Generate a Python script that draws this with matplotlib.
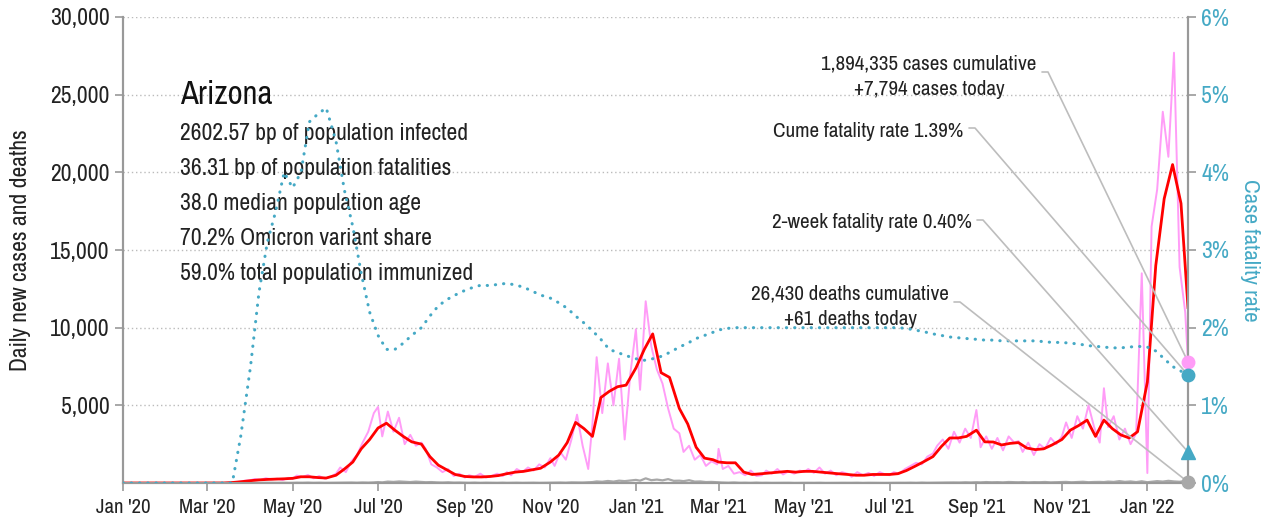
import matplotlib.pyplot as plt
import matplotlib.dates as mdates
from matplotlib import font_manager as fm
import pandas as pd

# pick a narrow face if the machine has one
_fonts = fm.fontManager.ttflist
_narrow = sorted({f.name for f in _fonts if 'Narrow' in f.name or 'Condensed' in f.name})
_cond = [f.name for f in _fonts if str(f.stretch) in ('condensed', 'semi-condensed', '500', '300')]
if _narrow:
    plt.rcParams['font.family'] = [_narrow[0], 'DejaVu Sans']
elif _cond:
    plt.rcParams['font.family'] = [_cond[0], 'DejaVu Sans']
    plt.rcParams['font.stretch'] = 'condensed'
else:
    plt.rcParams['font.family'] = ['Liberation Sans', 'DejaVu Sans']
NARROW = bool(_narrow or _cond)

# 7-day average cases and case fatality rate, sampled on days 1,7,13,19,25 of each month (Jan '20 - Jan '22)
avg_cases = [
    0, 0, 0, 0, 0,                  # Jan 20
    0, 0, 0, 0, 0,                  # Feb 20
    0, 0, 0, 30, 80,                # Mar 20
    150, 200, 230, 250, 270,        # Apr 20
    300, 400, 400, 350, 320,        # May 20
    500, 900, 1350, 2200, 2800,     # Jun 20
    3540, 3850, 3400, 3000, 2650,   # Jul 20
    2500, 1700, 1150, 850, 550,     # Aug 20
    420, 390, 390, 420, 480,        # Sep 20
    600, 700, 750, 850, 950,        # Oct 20
    1350, 1800, 2600, 3900, 3500,   # Nov 20
    3000, 5500, 5900, 6200, 6300,   # Dec 20
    7400, 8600, 9600, 7100, 6800,   # Jan 21
    4800, 3800, 2300, 1600, 1500,   # Feb 21
    1350, 1300, 1300, 700, 550,     # Mar 21
    600, 650, 700, 750, 700,        # Apr 21
    750, 750, 700, 650, 600,        # May 21
    550, 500, 500, 550, 550,        # Jun 21
    550, 600, 800, 1070, 1350,      # Jul 21
    1700, 2350, 2900, 2900, 3000,   # Aug 21
    3400, 2650, 2640, 2450, 2550,   # Sep 21
    2600, 2250, 2150, 2200, 2450,   # Oct 21
    2800, 3400, 3700, 4050, 3000,   # Nov 21
    4050, 3500, 3100, 2900, 3300,   # Dec 21
    6500, 14000, 18300, 20500, 18000,  # Jan 22
]
cfr_pct = [
    0, 0, 0, 0, 0,
    0, 0, 0, 0, 0,
    0, 0, 0, 0, 0.6,
    1.5, 2.45, 3.1, 3.5, 4.0,
    3.8, 4.0, 4.65, 4.75, 4.83,
    4.4, 3.77, 3.3, 2.7, 2.2,
    1.9, 1.72, 1.72, 1.8, 1.9,
    2.0, 2.15, 2.28, 2.36, 2.42,
    2.48, 2.52, 2.55, 2.54, 2.56,
    2.57, 2.55, 2.52, 2.47, 2.42,
    2.38, 2.32, 2.25, 2.15, 2.06,
    1.96, 1.85, 1.72, 1.68, 1.64,
    1.6, 1.58, 1.6, 1.63, 1.68,
    1.75, 1.8, 1.86, 1.9, 1.94,
    1.97, 1.99, 2.0, 2.0, 2.0,
    2.0, 2.0, 2.0, 2.0, 2.0,
    2.0, 2.0, 2.0, 2.0, 2.0,
    2.0, 2.0, 2.0, 2.0, 2.0,
    2.0, 2.0, 1.99, 1.97, 1.95,
    1.92, 1.9, 1.88, 1.87, 1.86,
    1.85, 1.84, 1.84, 1.83, 1.83,
    1.83, 1.83, 1.83, 1.82, 1.81,
    1.81, 1.8, 1.79, 1.77, 1.76,
    1.75, 1.74, 1.74, 1.75, 1.76,
    1.75, 1.7, 1.6, 1.5, 1.44,
]

# daily reported cases and deaths, days 1,4,8,12,16,20,24,28 of each month (Mar '20 - Jan '22)
daily_cases = [
    0, 0, 0, 0, 10, 40, 80, 150,
    180, 260, 200, 310, 230, 280, 190, 330,
    260, 480, 380, 520, 300, 450, 280, 400,
    600, 1000, 700, 1400, 1800, 2600, 3300, 4500,
    4900, 3000, 4600, 3300, 4200, 2500, 3100, 2400,
    2600, 2200, 1200, 1000, 700, 900, 450, 600,
    350, 500, 400, 600, 350, 450, 600, 450,
    700, 500, 900, 700, 1000, 800, 1200, 1000,
    1600, 1100, 2000, 1500, 2800, 4400, 2400, 900,
    3800, 8100, 4500, 7700, 5000, 8000, 2800, 7000,
    9900, 6000, 11700, 8800, 7300, 6400, 4800, 3500,
    3200, 2000, 2400, 1500, 1800, 1100, 1400, 1200,
    2200, 900, 1100, 600, 700, 500, 800, 450,
    500, 800, 600, 900, 550, 750, 600, 800,
    700, 900, 650, 1000, 600, 800, 500, 700,
    600, 400, 700, 500, 650, 450, 700, 550,
    500, 700, 600, 900, 1100, 1300, 1200, 1700,
    1900, 2400, 2800, 2200, 3300, 2600, 3500, 2900,
    4700, 2300, 3000, 2200, 2900, 2100, 3000, 2600,
    2700, 2000, 2600, 1800, 2500, 2200, 2900, 2500,
    3000, 3900, 2900, 4300, 3500, 5000, 3600, 2600,
    6100, 3600, 4300, 2800, 3500, 2500, 3200, 13500,
    640, 16500, 18900, 23900, 21000, 27700, 13900, 11000,
]
daily_deaths = [
    0, 0, 0, 0, 0, 1, 2, 3,
    5, 10, 8, 15, 12, 10, 15, 8,
    10, 20, 15, 25, 12, 20, 10, 15,
    15, 20, 25, 30, 20, 35, 25, 40,
    60, 40, 90, 70, 100, 80, 60, 90,
    70, 50, 60, 40, 30, 45, 25, 30,
    20, 15, 25, 10, 20, 15, 10, 20,
    10, 15, 20, 10, 15, 20, 10, 15,
    20, 25, 30, 20, 40, 35, 30, 50,
    60, 100, 80, 130, 90, 150, 120, 160,
    200, 150, 300, 180, 220, 170, 250, 140,
    150, 120, 180, 90, 100, 60, 70, 50,
    40, 30, 20, 35, 15, 20, 10, 25,
    10, 15, 8, 12, 10, 15, 5, 10,
    10, 12, 8, 15, 5, 10, 8, 12,
    8, 10, 15, 5, 12, 8, 10, 6,
    10, 8, 15, 12, 20, 10, 25, 15,
    20, 30, 25, 40, 35, 30, 45, 35,
    50, 40, 60, 45, 55, 40, 65, 50,
    45, 60, 40, 55, 50, 65, 40, 50,
    55, 70, 45, 60, 80, 50, 65, 70,
    60, 90, 70, 120, 75, 100, 60, 110,
    50, 80, 120, 90, 140, 100, 80, 130,
]

# latest figures
last_date = pd.Timestamp('2022-01-30')
cases_today = 7794
deaths_today = 61
avg_today = 11300
cfr_today = 1.39
cfr_2week = 0.40
cases_cum = 1894335
deaths_cum = 26430

state = 'Arizona'
stats = ['2602.57 bp of population infected',
         '36.31 bp of population fatalities',
         '38.0 median population age',
         '70.2% Omicron variant share',
         '59.0% total population immunized']


def month_grid(first, last, days):
    months = pd.date_range(first, last, freq='MS')
    return [m + pd.Timedelta(days=d - 1) for m in months for d in days]


avg_dates = month_grid('2020-01-01', '2022-01-01', [1, 7, 13, 19, 25]) + [last_date]
daily_dates = month_grid('2020-03-01', '2022-01-01', [1, 4, 8, 12, 16, 20, 24, 28]) + [last_date]
last_x = mdates.date2num(last_date)

PINK = '#FF9CF7'
RED = '#FF0000'
GRAY = '#A8A8A8'
TEAL = '#45A9C5'
LINE = '#BDBDBD'
AX = '#999999'
K = 1.0 if NARROW else 0.85

fig = plt.figure(figsize=(12.67, 5.25), dpi=100)
ax = fig.add_axes([123 / 1267, 42 / 525, 1065 / 1267, 466 / 525])
ax2 = ax.twinx()

ax.plot(daily_dates, daily_cases + [cases_today], color=PINK, lw=1.4, zorder=2)
ax.plot(daily_dates, daily_deaths + [deaths_today], color=GRAY, lw=1.6, zorder=2)
ax.plot(avg_dates, avg_cases + [avg_today], color=RED, lw=2, zorder=3)
ax2.plot(avg_dates, cfr_pct + [cfr_today], color=TEAL, lw=2.2,
         linestyle=(0, (0.1, 2.6)), dash_capstyle='round', zorder=3)

ax.set_xlim(pd.Timestamp('2020-01-01'), last_date)
ax.set_ylim(0, 30000)
ax2.set_ylim(0, 6)

xt = pd.date_range('2020-01-01', '2022-01-01', freq='2MS')
ax.set_xticks(xt)
ax.set_xticklabels([d.strftime("%b '%y") for d in xt])
ax.set_yticks(range(5000, 30001, 5000))
ax.set_yticklabels([f'{v:,}' for v in range(5000, 30001, 5000)])
ax2.set_yticks(range(0, 7))
ax2.set_yticklabels([f'{v}%' for v in range(0, 7)])

ax.grid(axis='y', color='#BBBBBB', linestyle=(0, (1, 2)), lw=1)
ax.set_axisbelow(True)
for a in (ax, ax2):
    for s in a.spines.values():
        s.set_color(AX)
        s.set_linewidth(1.5)
    a.spines['top'].set_visible(False)
ax.tick_params(axis='x', colors=AX, length=6, width=1.2, labelsize=15 * K, labelcolor='#222222', pad=5)
ax.tick_params(axis='y', colors=AX, length=6, width=1.2, labelsize=17 * K, labelcolor='#222222')
ax2.tick_params(axis='y', colors=AX, length=6, width=1.2, labelsize=17 * K, labelcolor=TEAL)

ax.set_ylabel('Daily new cases and deaths', fontsize=17 * K, color='#222222', labelpad=14)
ax2.set_ylabel('Case fatality rate', fontsize=16.5 * K, color=TEAL, rotation=270, labelpad=22)


def frac(px, py):
    return ((px - 123) / 1065, (483 - py) / 466)


ax.text(*frac(180, 104), state, transform=ax.transAxes, fontsize=23.5 * K, color='#111111')
for i, s in enumerate(stats):
    ax.text(*frac(180, 140 + 35 * i), s, transform=ax.transAxes, fontsize=17 * K, color='#222222')

# markers at the latest date
ax2.plot([last_x], [cases_today], 'o', color=PINK, ms=9, transform=ax.transData, clip_on=False, zorder=6)
ax2.plot([last_x], [deaths_today], 'o', color=GRAY, ms=9, transform=ax.transData, clip_on=False, zorder=6)
ax2.plot([last_x], [cfr_today], 'o', color=TEAL, ms=9, clip_on=False, zorder=6)
ax2.plot([last_x], [cfr_2week], '^', color=TEAL, ms=10, clip_on=False, zorder=6)

labels = [
    (929, 70, f'{cases_cum:,} cases cumulative', 'center'),
    (929, 95, f'+{cases_today:,} cases today', 'center'),
    (963, 137, f'Cume fatality rate {cfr_today:.2f}%', 'right'),
    (972, 228, f'2-week fatality rate {cfr_2week:.2f}%', 'right'),
    (850, 299, f'{deaths_cum:,} deaths cumulative', 'center'),
    (850, 325, f'+{deaths_today} deaths today', 'center'),
]
for px, py, s, ha in labels:
    ax.text(*frac(px, py), s, transform=ax.transAxes, fontsize=15.2 * K, ha=ha, color='#222222')

leaders = [
    (1042, 72, ax.transData, cases_today),
    (969, 128, ax2.transData, cfr_today),
    (977, 220, ax2.transData, cfr_2week),
    (954, 302, ax.transData, deaths_today),
]
for px, py, tr, val in leaders:
    ax2.annotate('', xy=(last_x, val), xycoords=tr, xytext=frac(px, py), textcoords='axes fraction',
                 arrowprops=dict(arrowstyle='-', color=LINE, lw=1.2, shrinkA=0, shrinkB=0,
                                 connectionstyle='arc,angleA=0,armA=6,rad=0'), zorder=5)

fig.savefig('out.png', dpi=100)
